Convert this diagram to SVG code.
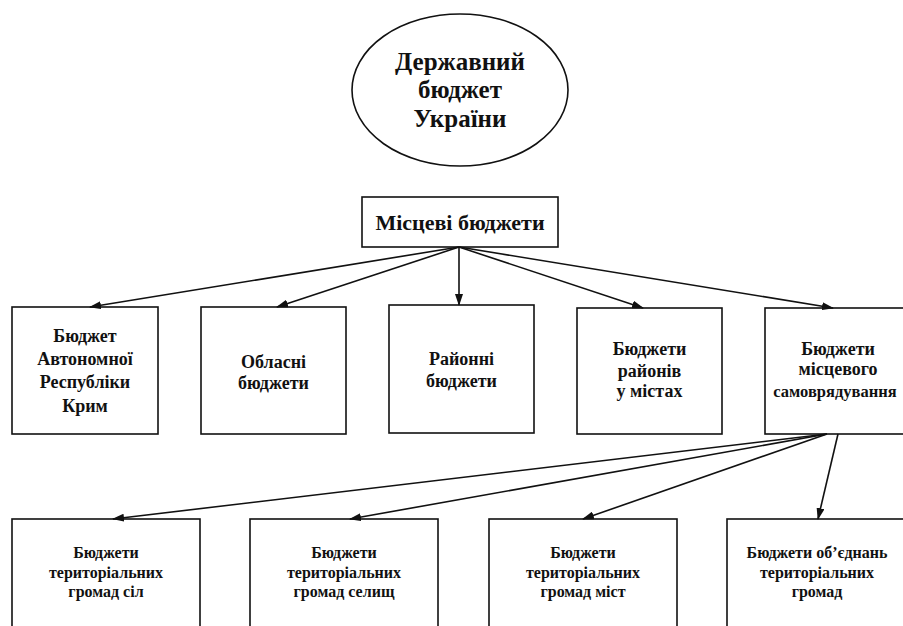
<svg xmlns="http://www.w3.org/2000/svg" width="903" height="626" viewBox="0 0 903 626">
<style>
.box{fill:#fff;stroke:#111;stroke-width:1.6}
.t{font-family:"Liberation Serif","Times New Roman",serif;font-weight:bold;fill:#111;text-anchor:middle}
.t1{font-size:25px}
.t2{font-size:18px}
.t3{font-size:16px}
.c{stroke:#111;stroke-width:1.6;fill:none;marker-end:url(#ah)}
</style>
<defs>
<marker id="ah" markerUnits="userSpaceOnUse" markerWidth="12" markerHeight="8" refX="11" refY="4" orient="auto">
<path d="M0,0 L12,4 L0,8 z" fill="#111"/>
</marker>
</defs>
<rect width="903" height="626" fill="#fff"/>
<g id="state">
<ellipse class="box" cx="460" cy="90" rx="108" ry="76"/>
<text class="t t1" x="460" y="70">Державний</text>
<text class="t t1" x="460" y="98">бюджет</text>
<text class="t t1" x="460" y="127">України</text>
</g>
<g id="local">
<rect class="box" x="362" y="197" width="196" height="50"/>
<text class="t" x="460" y="230" font-size="22">Місцеві бюджети</text>
</g>
<g id="crimea">
<rect class="box" x="12" y="307" width="146" height="127"/>
<text class="t t2" x="85" y="342">Бюджет</text>
<text class="t t2" x="85" y="365">Автономної</text>
<text class="t t2" x="85" y="388">Республіки</text>
<text class="t t2" x="85" y="412">Крим</text>
</g>
<g id="oblast">
<rect class="box" x="201" y="307" width="145" height="127"/>
<text class="t t2" x="273.5" y="368">Обласні</text>
<text class="t t2" x="273.5" y="389">бюджети</text>
</g>
<g id="raion">
<rect class="box" x="389" y="305" width="145" height="128"/>
<text class="t t2" x="461.5" y="365">Районні</text>
<text class="t t2" x="461.5" y="387">бюджети</text>
</g>
<g id="cityraion">
<rect class="box" x="577" y="308" width="145" height="126"/>
<text class="t t2" x="649.5" y="355">Бюджети</text>
<text class="t t2" x="649.5" y="377">районів</text>
<text class="t t2" x="649.5" y="397">у містах</text>
</g>
<g id="selfgov">
<rect class="box" x="765" y="308" width="146" height="126"/>
<text class="t t2" x="838" y="355">Бюджети</text>
<text class="t t2" x="838" y="375">місцевого</text>
<text class="t" x="835" y="397" font-size="16.5">самоврядування</text>
</g>
<g id="villages">
<rect class="box" x="12" y="519" width="188" height="112"/>
<text class="t t3" x="106" y="558">Бюджети</text>
<text class="t t3" x="106" y="578">територіальних</text>
<text class="t t3" x="106" y="597">громад сіл</text>
</g>
<g id="settlements">
<rect class="box" x="250" y="519" width="188" height="112"/>
<text class="t t3" x="344" y="558">Бюджети</text>
<text class="t t3" x="344" y="578">територіальних</text>
<text class="t t3" x="344" y="597">громад селищ</text>
</g>
<g id="cities">
<rect class="box" x="489" y="519" width="188" height="112"/>
<text class="t t3" x="583" y="558">Бюджети</text>
<text class="t t3" x="583" y="578">територіальних</text>
<text class="t t3" x="583" y="597">громад міст</text>
</g>
<g id="unions">
<rect class="box" x="727" y="519" width="182" height="112"/>
<text class="t t3" x="817" y="558">Бюджети об’єднань</text>
<text class="t t3" x="817" y="578">територіальних</text>
<text class="t t3" x="817" y="597">громад</text>
</g>
<g id="connectors">
<line class="c" x1="459" y1="247" x2="90" y2="307"/>
<line class="c" x1="459" y1="247" x2="277" y2="307"/>
<line class="c" x1="459" y1="247" x2="459" y2="305"/>
<line class="c" x1="459" y1="247" x2="643" y2="308"/>
<line class="c" x1="459" y1="247" x2="833" y2="308"/>
<line class="c" x1="827" y1="434" x2="113" y2="519"/>
<line class="c" x1="827" y1="434" x2="350" y2="519"/>
<line class="c" x1="827" y1="434" x2="583" y2="519"/>
<line class="c" x1="838" y1="434" x2="818" y2="519"/>
</g>
</svg>
